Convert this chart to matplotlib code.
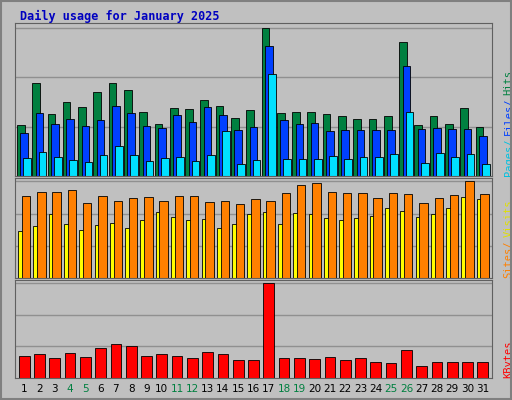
import numpy as np
import matplotlib.pyplot as plt

days = list(range(1, 32))
weekend = [4, 5, 11, 12, 18, 19, 25, 26]
hits = [48150, 87633, 58743, 70299, 65484, 78966, 87633, 80892, 60669, 49113, 64521, 63558, 72225,
        66447, 54891, 62595, 139607, 59706, 60669, 60669, 58743, 56817, 53928, 53928, 56817, 126405,
        48150, 56817, 49113, 64521, 46224]
files = [40446, 59706, 49113, 53928, 47187, 52965, 66447, 59706, 47187, 45261, 57780, 51039, 65484,
         57780, 43335, 46224, 122553, 52965, 49113, 50076, 42372, 43335, 43335, 43335, 43335, 104256,
         44298, 45261, 44298, 44298, 37557]
pages = [17334, 23112, 18297, 15408, 13482, 20223, 27927, 20223, 14445, 17334, 18297, 14445, 20223,
         42372, 11556, 15408, 96300, 16371, 16371, 16371, 19260, 16371, 18297, 18297, 21186, 60669,
         12519, 22149, 18297, 21186, 11556]
visits = [3904, 4099, 4099, 4196, 3612, 3904, 3709, 3807, 3856, 3709, 3904, 3904, 3661,
          3709, 3563, 3758, 3709, 4050, 4439, 4526, 4099, 4050, 4050, 3807, 4050, 4002,
          3612, 3807, 3953, 4624, 4002]
sites = [2249, 2492, 3077, 2590, 2298, 2541, 2639, 2395, 2785, 3174, 2931, 2785, 2833,
         2395, 2590, 3077, 3174, 2590, 3125, 3077, 2882, 2785, 2882, 2980, 3369, 3223,
         2931, 3077, 3369, 3856, 3758]
kbytes = [3097376, 3392355, 2802397, 3539845, 2949886, 4277293, 4867252, 4572272, 3097376, 3392355,
          3097376, 2802397, 3687335, 3392355, 2507418, 2507418, 13421960, 2802397, 2802397, 2654907,
          2949886, 2507418, 2802397, 2212438, 2064948, 3982314, 1769969, 2212438, 2212438, 2212438,
          2212438]

BG = '#C0C0C0'
W, H = 512, 400
fig = plt.figure(figsize=(5.12, 4.0), dpi=100, facecolor=BG)
fig.patches.append(plt.Rectangle((0.002, 0.002), 0.996, 0.996, transform=fig.transFigure,
                                 fill=False, edgecolor='#808080', lw=1.5))

def px_axes(x0, y0, x1, y1):
    ax = fig.add_axes([x0 / W, 1 - y1 / H, (x1 - x0) / W, (y1 - y0) / H])
    ax.set_facecolor(BG)
    ax.set_xlim(0.4, 31.6)
    ax.set_xticks([])
    ax.set_yticks([])
    for s in ax.spines.values():
        s.set_color('#606060')
    return ax

x = np.array(days)
fig.text(20 / W, 1 - 16 / H, 'Daily usage for January 2025', color='#0000C0', fontsize=8.5,
         fontweight='bold', family='DejaVu Sans Mono', va='center')

def panel(ax, top, label, names_colors):
    ax.set_ylim(0, top * 1.035)
    for f in (1 / 3, 2 / 3):
        ax.axhline(top * f, color='#909090', lw=1, zorder=0)
    ax.axhline(top, color='#909090', lw=1, zorder=0)
    ax.text(-0.035, 1.0, label, transform=ax.transAxes, rotation=90, ha='center', va='top',
            fontsize=7.5, family='DejaVu Sans Mono')
    xx = 1.035
    parts = []
    t = ax.text(xx, 0.0, '', transform=ax.transAxes)
    y = 0.0
    for i, (n, c) in enumerate(names_colors):
        s = n if i == len(names_colors) - 1 else n + '/'
        tt = ax.text(xx, y, s, transform=ax.transAxes, rotation=90, ha='center', va='bottom',
                     color=c, fontsize=7.5, family='DejaVu Sans Mono')
        y += len(s) * 0.65 * 7.5 / 72 * 100 / ax.bbox.height

a1 = px_axes(15, 23, 492, 176)
a1.bar(x - 0.22, hits, 0.5, color='#008040', edgecolor='black', lw=0.6)
a1.bar(x, files, 0.5, color='#0040FF', edgecolor='black', lw=0.6)
a1.bar(x + 0.2, pages, 0.5, color='#00E0FF', edgecolor='black', lw=0.6)
panel(a1, 139607, '139607', [('Pages', '#00C0E0'), ('Files', '#0040FF'), ('Hits', '#008040')])

a2 = px_axes(15, 178, 492, 278)
a2.bar(x + 0.12, visits, 0.55, color='#FF8000', edgecolor='black', lw=0.6)
a2.bar(x - 0.12, sites, 0.55, color='#FFFF00', edgecolor='black', lw=0.6, zorder=1)
a2.patches[-1]
for p in a2.patches[31:]:
    p.set_zorder(1)
for p in a2.patches[:31]:
    p.set_zorder(2)
panel(a2, 4624, '4624', [('Sites', '#FF8000'), ('Visits', '#E0E000')])

a3 = px_axes(15, 280, 492, 378)
a3.bar(x, kbytes, 0.7, color='#FF0000', edgecolor='black', lw=0.6)
panel(a3, 13421960, '13421960', [('KBytes', '#FF0000')])

for d in days:
    fig.text((15 + (d - 0.4) / 31.2 * 477) / W, 1 - 389 / H, str(d), ha='center', va='center',
             fontsize=7.5, color='#008040' if d in weekend else 'black')

fig.savefig('out.png', dpi=100, facecolor=BG)
